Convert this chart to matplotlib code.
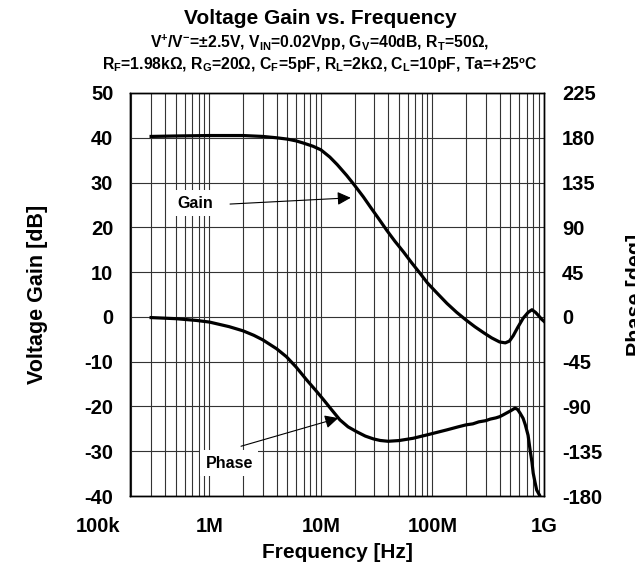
import matplotlib
matplotlib.use("Agg")
import matplotlib.pyplot as plt
import matplotlib.transforms as mtransforms
from matplotlib.ticker import LogLocator, NullFormatter, FixedLocator

plt.rcParams['font.family'] = ['Liberation Sans', 'DejaVu Sans']
plt.rcParams['font.weight'] = 'bold'
plt.rcParams['axes.unicode_minus'] = False
plt.rcParams['mathtext.fontset'] = 'custom'
plt.rcParams['mathtext.rm'] = 'Liberation Sans:bold'
plt.rcParams['mathtext.it'] = 'Liberation Sans:bold'
plt.rcParams['mathtext.bf'] = 'Liberation Sans:bold'

# Gain curve [Hz, dB]
gain_freq = [3e5, 5e5, 1e6, 2e6, 3e6, 4e6, 5e6, 6e6, 7e6, 8.5e6,
             1e7, 1.2e7, 1.4e7, 1.7e7, 2e7, 2.4e7, 2.8e7, 3.3e7, 3.9e7, 4.6e7,
             5.5e7, 6.5e7, 7.7e7, 9e7, 1.1e8, 1.35e8, 1.65e8, 2e8, 2.4e8, 2.9e8,
             3.4e8, 4e8, 4.5e8, 4.9e8, 5.3e8, 5.8e8, 6.5e8, 7.2e8, 7.8e8, 8.4e8,
             9e8, 9.5e8, 1e9]
gain_db = [40.3, 40.4, 40.5, 40.5, 40.3, 40.0, 39.7, 39.3, 38.8, 38.1,
           37.3, 35.7, 34.0, 31.6, 29.4, 26.8, 24.4, 21.9, 19.3, 16.9,
           14.5, 12.1, 9.8, 7.6, 5.3, 3.0, 1.0, -0.7, -2.2, -3.6,
           -4.7, -5.6, -5.8, -5.4, -4.2, -2.4, -0.3, 1.0, 1.6, 1.0,
           0.2, -0.5, -1.0]

# Phase curve [Hz, deg]
phase_freq = [3e5, 5e5, 7.7e5, 1e6, 1.5e6, 2e6, 2.5e6, 3e6, 4e6, 4.9e6,
              6e6, 7.4e6, 9e6, 1.05e7, 1.25e7, 1.48e7, 1.75e7, 2.1e7, 2.5e7, 2.95e7,
              3.4e7, 4e7, 5e7, 6.7e7, 9e7, 1.34e8, 1.7e8, 2e8, 2.3e8, 2.6e8,
              3e8, 3.3e8, 3.7e8, 4e8, 4.3e8, 4.6e8, 5e8, 5.5e8, 5.8e8, 6.1e8,
              6.5e8, 6.8e8, 7.2e8, 7.5e8, 7.8e8, 8e8, 8.3e8, 8.6e8, 9.1e8]
phase_deg = [-0.7, -1.8, -3.6, -5.2, -9.8, -14, -18.5, -23, -32, -40,
             -50.5, -63, -74, -83, -93.5, -103.5, -110.5, -115.5, -119.8, -122.6,
             -124.2, -125, -124.3, -122, -118.5, -113.6, -110.5, -108.5, -107.5, -105.5,
             -104.3, -102.7, -101.5, -100.3, -98.5, -96.7, -94.5, -91.7, -93, -96.7,
             -102, -108.5, -119, -133.7, -146, -157, -166, -174, -179]

x_ticks = [1e6, 1e7, 1e8, 1e9]
x_labels = ["1M", "10M", "100M", "1G"]
gain_ticks = list(range(-40, 51, 10))
phase_ticks = list(range(-180, 226, 45))

fig = plt.figure(figsize=(6.35, 5.7), dpi=100)
ax = fig.add_axes([130 / 635, 1 - 496 / 570, 414 / 635, 403 / 570])
ax2 = ax.twinx()

ax.set_xscale("log")
ax.set_xlim(1.94e5, 1e9)
ax.set_ylim(-40, 50)
ax2.set_ylim(-180, 225)

ax.xaxis.set_major_locator(FixedLocator(x_ticks))
ax.set_xticklabels(x_labels)
ax.xaxis.set_minor_locator(LogLocator(base=10, subs=range(2, 10), numticks=20))
ax.xaxis.set_minor_formatter(NullFormatter())
ax.set_yticks(gain_ticks)
ax2.set_yticks(phase_ticks)

ax.grid(True, which="both", axis="x", color="#333333", lw=0.8)
ax.grid(True, which="major", axis="y", color="#333333", lw=0.8)
ax.tick_params(axis="both", which="both", length=0, labelsize=14.5)
ax.tick_params(axis="x", pad=15)
ax.tick_params(axis="y", pad=12)
ax2.tick_params(axis="y", length=0, labelsize=14.5, pad=13)
for a in (ax, ax2):
    for s in a.spines.values():
        s.set_linewidth(1.0)
        s.set_color("black")

# 100k label sits left of the plot area in the reference
off = mtransforms.offset_copy(ax.get_xaxis_transform(), fig=fig, y=-15, units="points")
ax.text(1e5, 0, "100k", transform=off, ha="center", va="top", fontsize=14.5,
        fontweight="bold", clip_on=False)

ax.plot(gain_freq, gain_db, color="black", lw=2.3, solid_joinstyle="round")
ax2.plot(phase_freq, phase_deg, color="black", lw=2.3, solid_joinstyle="round")

# callouts: arrow and label drawn separately
arrow = dict(arrowstyle="-|>", color="black", lw=0.8, mutation_scale=20,
             shrinkA=0, shrinkB=0)
ax.annotate("", xy=(1.85e7, 26.6), xytext=(1.53e6, 25.2), arrowprops=arrow)
ax.text(7.5e5, 25.4, "Gain", fontsize=11.5, fontweight="bold", ha="center",
        va="center", bbox=dict(facecolor="white", edgecolor="none", pad=4))
ax2.annotate("", xy=(1.43e7, -101.7), xytext=(1.92e6, -130), arrowprops=arrow)
ax2.text(1.5e6, -147, "Phase", fontsize=11.5, fontweight="bold", ha="center",
         va="center", bbox=dict(facecolor="white", edgecolor="none", pad=4))

mid_y = 0.5 * (1 - 93 / 570 + 1 - 496 / 570)
fig.text(38 / 635, mid_y, "Voltage Gain [dB]", rotation=90, ha="center",
         va="center", fontsize=15.5, fontweight="bold")
fig.text(337 / 635, 1 - 553 / 570, "Frequency [Hz]", ha="center", va="center",
         fontsize=15, fontweight="bold")
fig.text(626 / 635, mid_y, "Phase [deg]", rotation=90, ha="left", va="center",
         fontsize=15.5, fontweight="bold")

fig.text(320 / 635, 1 - 19 / 570, "Voltage Gain vs. Frequency", ha="center",
         va="center", fontsize=15, fontweight="bold")
fig.text(320 / 635, 1 - 43 / 570,
         r"V$^{+}$/V$^{-}$=±2.5V, V$_{IN}$=0.02Vpp, G$_{V}$=40dB, R$_{T}$=50Ω,",
         ha="center", va="center", fontsize=11.3, fontweight="bold")
fig.text(320 / 635, 1 - 64 / 570,
         r"R$_{F}$=1.98kΩ, R$_{G}$=20Ω, C$_{F}$=5pF, R$_{L}$=2kΩ, C$_{L}$=10pF, Ta=+25ºC",
         ha="center", va="center", fontsize=11.3, fontweight="bold")

fig.savefig("out.png", dpi=100)
